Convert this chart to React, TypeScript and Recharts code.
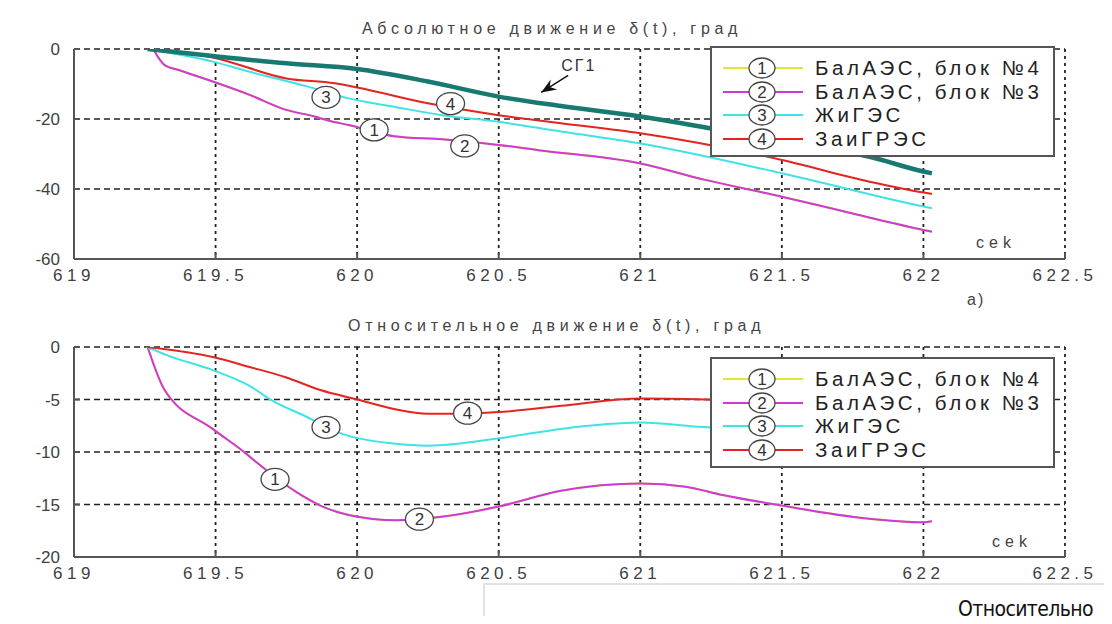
import React from "react";
import { LineChart, Line, XAxis, YAxis, CartesianGrid, ReferenceDot, Legend } from "recharts";

// time axis, seconds
const xTicks = [619, 619.5, 620, 620.5, 621, 621.5, 622, 622.5];
const absTicks = [0, -20, -40, -60];
const relTicks = [0, -5, -10, -15, -20];

// series names (legend order)
const names = ["БалАЭС, блок №4", "БалАЭС, блок №3", "ЖиГЭС", "ЗаиГРЭС"];
const colors = ["#e4e43a", "#d03ad4", "#3fe3e6", "#e3251f"];
const sgColor = "#17796f";

// absolute rotor angle, deg: [t, delta]
const absBal4 = [[619.28, 0], [619.32, -4.6], [619.37, -6.0], [619.49, -9.3], [619.62, -13.1], [619.75, -17.4], [619.85, -19.3], [619.9, -20.5], [619.97, -21.7], [620.13, -24.9], [620.3, -25.8], [620.5, -27.4], [620.64, -28.9], [621, -32.7], [621.23, -37.4], [621.5, -42.2], [621.75, -47.0], [622, -51.7], [622.03, -52.2]];
const absBal3 = [[619.28, 0], [619.32, -4.6], [619.37, -6.0], [619.49, -9.3], [619.62, -13.1], [619.75, -17.4], [619.85, -19.3], [619.9, -20.5], [619.97, -21.7], [620.13, -24.9], [620.3, -25.8], [620.5, -27.4], [620.64, -28.9], [621, -32.7], [621.23, -37.4], [621.5, -42.2], [621.75, -47.0], [622, -51.7], [622.03, -52.2]];
const absZhi = [[619.26, 0], [619.49, -3.6], [619.62, -6.5], [619.82, -10.6], [619.97, -14.1], [620.13, -16.5], [620.3, -18.9], [620.5, -20.8], [620.72, -23.6], [621, -27.0], [621.5, -35.5], [622, -45.0], [622.03, -45.5]];
const absZai = [[619.26, 0], [619.49, -2.4], [619.75, -8.4], [619.92, -9.8], [620, -11.0], [620.25, -15.5], [620.5, -18.9], [620.72, -21.2], [621, -24.1], [621.5, -31.7], [621.81, -37.9], [622, -41.0], [622.03, -41.4]];
const absSG1 = [[619.26, 0], [619.49, -2.0], [619.75, -4.1], [620, -5.7], [620.25, -9.3], [620.5, -13.6], [620.72, -16.3], [621, -19.3], [621.25, -22.7], [621.5, -26.5], [621.81, -30.8], [622, -35.0], [622.03, -35.5]];

// relative rotor angle, deg
const relBal4 = [[619.26, 0], [619.32, -4.1], [619.49, -7.8], [619.61, -10.2], [619.65, -11.1], [619.79, -13.9], [619.87, -15.1], [619.97, -16.0], [620.14, -16.5], [620.29, -16.2], [620.5, -15.2], [620.72, -13.7], [621, -13.0], [621.16, -13.3], [621.29, -14.1], [621.5, -15.1], [621.79, -16.3], [622, -16.7], [622.03, -16.6]];
const relBal3 = [[619.26, 0], [619.32, -4.1], [619.49, -7.8], [619.61, -10.2], [619.65, -11.1], [619.79, -13.9], [619.87, -15.1], [619.97, -16.0], [620.14, -16.5], [620.29, -16.2], [620.5, -15.2], [620.72, -13.7], [621, -13.0], [621.16, -13.3], [621.29, -14.1], [621.5, -15.1], [621.79, -16.3], [622, -16.7], [622.03, -16.6]];
const relZhi = [[619.26, 0], [619.33, -0.8], [619.49, -2.2], [619.62, -3.7], [619.7, -5.1], [619.81, -6.5], [619.95, -8.3], [620.13, -9.2], [620.25, -9.4], [620.5, -8.7], [620.72, -7.8], [621, -7.2], [621.21, -7.6], [621.5, -8.2], [621.75, -8.9], [622, -9.4], [622.03, -9.4]];
const relZai = [[619.26, 0], [619.49, -0.95], [619.62, -1.9], [619.75, -2.9], [619.87, -4.1], [620, -5.0], [620.13, -5.9], [620.25, -6.35], [620.34, -6.35], [620.5, -6.2], [620.72, -5.6], [621, -4.9], [621.23, -5.0], [621.5, -5.3], [621.75, -5.8], [622, -6.2], [622.03, -6.2]];

// circled curve numbers: [number, t, delta]
const absMarks = [["3", 619.89, -13.8], ["4", 620.33, -15.6], ["1", 620.06, -23.1], ["2", 620.38, -27.7]];
const relMarks = [["4", 620.39, -6.3], ["3", 619.89, -7.65], ["1", 619.71, -12.6], ["2", 620.22, -16.4]];
const sgArrowTip = [620.65, -12.4];

const font = "'Liberation Sans', Arial, sans-serif";
const W = 1112;
const H = 300;
const margin = { top: 49, right: 47, bottom: 11, left: 14 };

const pts = (arr) => arr.map(([t, v]) => ({ t, v }));

const xTick = { fontSize: 17, fill: "#3f3f3f", fontFamily: font, letterSpacing: 4.5 };
const yTick = { fontSize: 17, fill: "#3f3f3f", fontFamily: font };

function NumMark({ cx, cy, n }) {
  return (
    <g>
      <ellipse cx={cx} cy={cy} rx={14} ry={11} fill="#fff" stroke="#444" strokeWidth={1.3} />
      <text x={cx} y={cy + 6} textAnchor="middle" fontSize={17} fontFamily={font} fill="#333">{n}</text>
    </g>
  );
}

function SgArrow({ cx, cy }) {
  return (
    <g>
      <line x1={cx} y1={cy} x2={cx + 27} y2={cy - 17} stroke="#111" strokeWidth={1.5} />
      <polygon points={`${cx},${cy} ${cx + 16},${cy - 3} ${cx + 8.5},${cy - 5.3} ${cx + 9.5},${cy - 13}`} fill="#111" />
      <text x={cx + 20} y={cy - 21} fontSize={16} fontFamily={font} fill="#333" letterSpacing={2}>СГ1</text>
    </g>
  );
}

function LegendBox({ payload }) {
  // keep the series order, not the alphabetical one
  const items = (payload || [])
    .filter((p) => names.includes(p.value))
    .sort((a, b) => names.indexOf(a.value) - names.indexOf(b.value));
  const rows = [20, 43.7, 67.4, 91.1];
  return (
    <div style={{ position: "relative", width: 345, height: 111, background: "#fff", border: "2px solid #555", boxSizing: "border-box" }}>
      {items.map((p, i) => (
        <div key={p.value} style={{ position: "absolute", left: 0, top: rows[i] - 11, height: 22, width: 343 }}>
          <svg width={100} height={22} style={{ position: "absolute", left: 0, top: 0, overflow: "visible" }}>
            <line x1={11} x2={91} y1={11} y2={11} stroke={p.color} strokeWidth={2} />
            <ellipse cx={50} cy={11} rx={13} ry={10} fill="#fff" stroke="#444" strokeWidth={1.3} />
            <text x={50} y={17} textAnchor="middle" fontSize={17} fontFamily={font} fill="#333">{names.indexOf(p.value) + 1}</text>
          </svg>
          <span style={{ position: "absolute", left: 103, top: 0, lineHeight: "22px", fontSize: 20.5, fontFamily: font, color: "#222", letterSpacing: 3.6, whiteSpace: "nowrap" }}>
            {p.value}
          </span>
        </div>
      ))}
    </div>
  );
}

function Panel({ series, sg, ticks, domain, marks, legendTop }) {
  return (
    <LineChart width={W} height={H} margin={margin}>
      <CartesianGrid vertical={false} stroke="#222" strokeWidth={1.3} strokeDasharray="6 4" />
      <CartesianGrid horizontal={false} stroke="#222" strokeWidth={1.8} strokeDasharray="3 4" />
      <XAxis
        dataKey="t" type="number" domain={[619, 622.5]} ticks={xTicks} allowDataOverflow
        height={30} tick={xTick} tickSize={-6} tickMargin={16}
        axisLine={{ stroke: "#555", strokeWidth: 2 }} tickLine={{ stroke: "#555", strokeWidth: 2 }}
      />
      <YAxis
        type="number" domain={domain} ticks={ticks} allowDataOverflow
        width={60} tick={yTick} tickSize={-6} tickMargin={20}
        axisLine={{ stroke: "#555", strokeWidth: 2 }} tickLine={{ stroke: "#555", strokeWidth: 2 }}
      />
      {series.map((s, i) => (
        <Line key={names[i]} data={pts(s)} dataKey="v" name={names[i]} stroke={colors[i]} strokeWidth={2}
          dot={false} activeDot={false} isAnimationActive={false} type="monotone" />
      ))}
      {sg && (
        <Line data={pts(sg)} dataKey="v" name="СГ1" stroke={sgColor} strokeWidth={4.5} dot={false}
          activeDot={false} legendType="none" isAnimationActive={false} type="monotone" />
      )}
      {marks.map(([n, t, v]) => (
        <ReferenceDot key={n} x={t} y={v} r={12} shape={(p) => <NumMark cx={p.cx} cy={p.cy} n={n} />} />
      ))}
      {sg && (
        <ReferenceDot x={sgArrowTip[0]} y={sgArrowTip[1]} r={2} shape={(p) => <SgArrow cx={p.cx} cy={p.cy} />} />
      )}
      <Legend layout="horizontal" verticalAlign="middle" align="center" content={LegendBox}
        wrapperStyle={{ left: 710, top: legendTop, width: 345, height: 111 }} />
    </LineChart>
  );
}

const caption = { position: "absolute", fontSize: 16, fontFamily: font, color: "#444", whiteSpace: "nowrap" };

export default function App() {
  return (
    <div style={{ position: "relative", width: W, height: 624, margin: -8, overflow: "hidden", background: "#fff" }}>
      <div style={{ position: "absolute", left: 0, top: 0, width: W, height: 5, background: "#e8e8e8" }} />
      <div style={{ position: "absolute", left: 0, top: 0, width: 6, height: 624, background: "#ececec" }} />

      <div style={{ position: "absolute", left: 0, top: 0 }}>
        <Panel series={[absBal4, absBal3, absZhi, absZai]} sg={absSG1} ticks={absTicks} domain={[-60, 0]}
          marks={absMarks} legendTop={46} />
      </div>
      <div style={{ ...caption, left: 362, top: 20, letterSpacing: 4.7 }}>Абсолютное движение  δ(t), град</div>
      <div style={{ ...caption, left: 976, top: 234, letterSpacing: 5 }}>cek</div>
      <div style={{ ...caption, left: 967, top: 291, letterSpacing: 2 }}>а)</div>

      <div style={{ position: "absolute", left: 0, top: 298 }}>
        <Panel series={[relBal4, relBal3, relZhi, relZai]} sg={null} ticks={relTicks} domain={[-20, 0]}
          marks={relMarks} legendTop={59} />
      </div>
      <div style={{ ...caption, left: 348, top: 317, letterSpacing: 4.7 }}>Относительное движение  δ(t), град</div>
      <div style={{ ...caption, left: 992, top: 533, letterSpacing: 5 }}>cek</div>

      <div style={{ position: "absolute", left: 483, top: 583, width: 629, height: 41, background: "#fff", borderTop: "2px solid #e2e2e2", borderLeft: "2px solid #e2e2e2", boxSizing: "border-box" }}>
        <div style={{ position: "absolute", left: 473, top: 12, fontSize: 21, fontFamily: "'Liberation Sans Narrow', 'DejaVu Sans Condensed', sans-serif", color: "#111", whiteSpace: "nowrap", letterSpacing: -0.6 }}>
          Относительно
        </div>
      </div>
    </div>
  );
}
